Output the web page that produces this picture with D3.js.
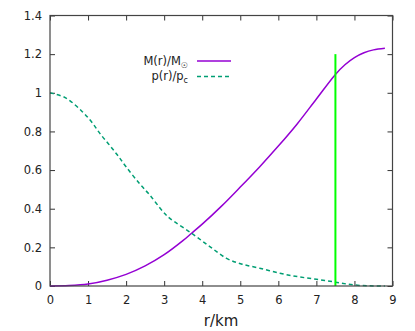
<!doctype html>
<html>
<head>
  <script src="https://cdnjs.cloudflare.com/ajax/libs/d3/7.8.5/d3.min.js"></script>
  <style>
    body { margin: 0; background: #fff; }
    svg { font-family: "DejaVu Sans", sans-serif; }
  </style>
</head>
<body>
  <svg id="chart" width="415" height="331"></svg>
<script>
  // mass profile M(r)/Msun
  var massR = [0, 0.5, 1, 1.5, 2, 2.5, 3, 3.5, 3.72, 4, 4.5, 5, 5.5, 6, 6.5, 7, 7.5, 7.75, 8, 8.25, 8.5, 8.8];
  var massV = [0, 0.002, 0.01, 0.03, 0.06, 0.104, 0.162, 0.236, 0.273, 0.32, 0.412, 0.512, 0.615, 0.724, 0.84, 0.968, 1.095, 1.145, 1.182, 1.207, 1.222, 1.23];
  // pressure profile p(r)/pc
  var presR = [0, 0.4, 0.83, 1.09, 1.31, 1.56, 1.79, 2.01, 2.36, 2.62, 2.97, 3.15, 3.72, 4.2, 4.64, 5.03, 5.51, 6.04, 6.52, 7.0, 7.5, 7.96, 8.4, 8.8];
  var presV = [1.0, 0.975, 0.906, 0.85, 0.79, 0.73, 0.673, 0.614, 0.528, 0.471, 0.385, 0.35, 0.273, 0.204, 0.143, 0.114, 0.092, 0.066, 0.048, 0.035, 0.02, 0.006, 0.001, 0];
  // surface marker
  var markR = [7.5];
  var markV = [0, 1.2];
  var xTicks = [0, 1, 2, 3, 4, 5, 6, 7, 8, 9];
  var yTicks = [0, 0.2, 0.4, 0.6, 0.8, 1, 1.2, 1.4];

  var L = 50, R = 392.5, T = 15.5, B = 286;
  var svg = d3.select("#chart");
  var x = d3.scaleLinear().domain([0, 9]).range([L, R]);
  var y = d3.scaleLinear().domain([0, 1.4]).range([B, T]);

  function styleAxis(g) {
    g.select(".domain").remove();
    g.selectAll("line").attr("stroke", "#333");
    g.selectAll("text").attr("font-size", "11.5px").attr("fill", "#222").attr("font-family", "DejaVu Sans, sans-serif");
  }

  svg.append("g").attr("transform", "translate(" + L + ",0)")
    .call(d3.axisLeft(y).tickValues(yTicks).tickSize(-5).tickPadding(8).tickFormat(d3.format("~g")))
    .call(styleAxis);
  svg.append("g").attr("transform", "translate(" + R + ",0)")
    .call(d3.axisRight(y).tickValues(yTicks).tickSize(-5).tickFormat(""))
    .call(styleAxis);
  svg.append("g").attr("transform", "translate(0," + B + ")")
    .call(d3.axisBottom(x).tickValues(xTicks).tickSize(-5).tickPadding(10))
    .call(styleAxis);
  svg.append("g").attr("transform", "translate(0," + T + ")")
    .call(d3.axisTop(x).tickValues(xTicks).tickSize(-5).tickFormat(""))
    .call(styleAxis);

  var line = d3.line().x(function(d) { return x(d[0]); }).y(function(d) { return y(d[1]); })
    .curve(d3.curveCatmullRom.alpha(0.5));

  svg.append("path")
    .datum(massR.map(function(r, i) { return [r, massV[i]]; }))
    .attr("d", line).attr("fill", "none")
    .attr("stroke", "#9400d3").attr("stroke-width", 1.5);

  svg.append("path")
    .datum(presR.map(function(r, i) { return [r, presV[i]]; }))
    .attr("d", line).attr("fill", "none")
    .attr("stroke", "#009e73").attr("stroke-width", 1.5).attr("stroke-dasharray", "4,3");

  svg.append("line")
    .attr("x1", x(markR[0])).attr("x2", x(markR[0]))
    .attr("y1", y(markV[0])).attr("y2", y(markV[1]))
    .attr("stroke", "#00ff00").attr("stroke-width", 2);

  // border
  svg.append("rect")
    .attr("x", L).attr("y", T).attr("width", R - L).attr("height", B - T)
    .attr("fill", "none").attr("stroke", "#444").attr("stroke-width", 1.2);

  // legend
  var leg = svg.append("g").attr("font-size", "11.5px").attr("fill", "#222");
  var t1 = leg.append("text").attr("x", 188).attr("y", 65).attr("text-anchor", "end");
  t1.append("tspan").text("M(r)/M");
  t1.append("tspan").attr("font-size", "8px").attr("dy", 3).text("\u2609");
  var t2 = leg.append("text").attr("x", 188).attr("y", 80).attr("text-anchor", "end");
  t2.append("tspan").text("p(r)/p");
  t2.append("tspan").attr("font-size", "8px").attr("dy", 3).text("c");
  leg.append("line").attr("x1", 197).attr("x2", 231).attr("y1", 61).attr("y2", 61)
    .attr("stroke", "#9400d3").attr("stroke-width", 1.5);
  leg.append("line").attr("x1", 197).attr("x2", 231).attr("y1", 76.5).attr("y2", 76.5)
    .attr("stroke", "#009e73").attr("stroke-width", 1.5).attr("stroke-dasharray", "4,3");

  svg.append("text")
    .attr("x", 221).attr("y", 326).attr("text-anchor", "middle")
    .attr("font-size", "15px").attr("fill", "#222")
    .text("r/km");
</script>
</body>
</html>
